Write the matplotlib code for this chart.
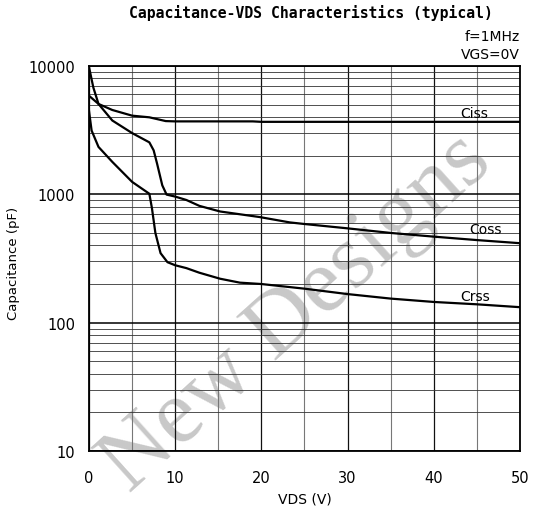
import matplotlib.pyplot as plt
from matplotlib.ticker import FixedLocator, NullFormatter

vds_ciss = [0, 1.1, 2.7, 5, 7, 8.9, 10, 19, 20, 30, 40, 50]
ciss = [5860, 5060, 4540, 4100, 3980, 3720, 3700, 3700, 3670, 3670, 3670, 3670]

vds_coss = [0, 0.5, 1.1, 2.7, 5, 7, 7.5, 7.9, 8.5, 9.0, 10, 11.3, 12.8, 15.2, 19.8, 23.3, 25, 30, 35, 40, 45, 50]
coss = [9800, 6800, 5060, 3760, 3000, 2540, 2200, 1730, 1175, 995, 960, 903, 813, 735, 665, 604, 587, 543, 500, 468, 440, 416]

vds_crss = [0, 0.3, 1.1, 2.7, 5, 7, 7.3, 7.7, 8.3, 9.1, 10, 11.3, 12.8, 15.2, 17.5, 20, 25, 30, 35, 40, 45, 50]
crss = [4460, 3140, 2340, 1790, 1250, 1010, 780, 500, 348, 296, 280, 266, 245, 220, 205, 200, 184, 167, 154, 145, 139, 132]

curve_names = ["Ciss", "Coss", "Crss"]
label_x = [44.7, 46.0, 44.8]
label_y = [3800, 470, 143]

xticks = [0, 10, 20, 30, 40, 50]
yticks = [10, 100, 1000, 10000]

fig = plt.figure(figsize=(5.34, 5.10), dpi=100)
ax = fig.add_axes([0.1667, 0.1137, 0.807, 0.755])

ax.plot(vds_ciss, ciss, color="black", lw=1.6, zorder=3)
ax.plot(vds_coss, coss, color="black", lw=1.6, zorder=3)
ax.plot(vds_crss, crss, color="black", lw=1.6, zorder=3)

ax.set_yscale("log")
ax.set_xlim(0, 50)
ax.set_ylim(10, 10000)

#grid
ax.set_xticks(xticks)
ax.xaxis.set_minor_locator(FixedLocator([5, 15, 25, 35, 45]))
ax.set_yticks(yticks)
ax.set_yticklabels([str(v) for v in yticks])
ax.yaxis.set_minor_locator(FixedLocator([m * 10 ** d for d in range(1, 4) for m in range(2, 10)]))
ax.yaxis.set_minor_formatter(NullFormatter())
ax.xaxis.grid(which="major", color="#111111", lw=0.9)
ax.xaxis.grid(which="minor", color="#777777", lw=0.8)
ax.yaxis.grid(which="major", color="black", lw=1.1)
ax.yaxis.grid(which="minor", color="#333333", lw=0.6)
ax.set_axisbelow(True)
ax.tick_params(which="both", length=0)
ax.tick_params(axis="x", pad=14, labelsize=10.5)
ax.tick_params(axis="y", pad=10, labelsize=10.5)
for s in ax.spines.values():
    s.set_linewidth(1.3)

for name, lx, ly in zip(curve_names, label_x, label_y):
    ax.text(lx, ly, name, fontsize=10, ha="center", va="bottom", zorder=4)

ax.set_xlabel("VDS (V)", fontsize=10, labelpad=4)
ax.set_ylabel("Capacitance (pF)", fontsize=9.5)
ax.yaxis.set_label_coords(-0.16, 0.49)

fig.text(0.582, 0.975, "Capacitance-VDS Characteristics (typical)",
         ha="center", va="center", fontsize=10.6, fontweight="bold", family="DejaVu Sans Mono")
fig.text(0.974, 0.928, "f=1MHz", ha="right", va="center", fontsize=10)
fig.text(0.974, 0.893, "VGS=0V", ha="right", va="center", fontsize=10)

# watermark, sits under the grid
ax.text(0.483, 0.36, "New Designs", transform=ax.transAxes, rotation=42,
        ha="center", va="center", fontsize=66,
        family="Liberation Serif", color="#c8c8c8", zorder=0.2, clip_on=False)

plt.savefig("out.png", dpi=100)
